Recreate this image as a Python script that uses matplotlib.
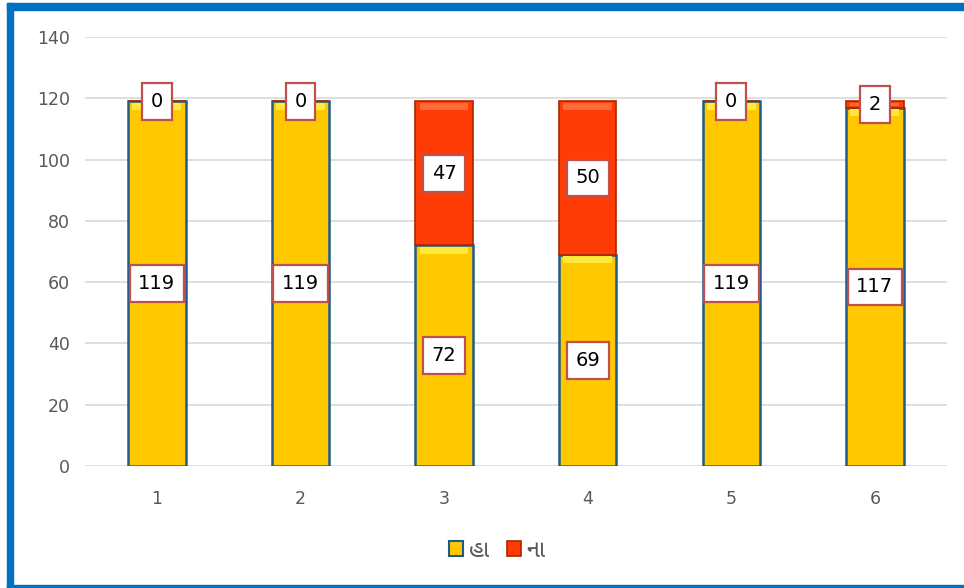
import matplotlib
matplotlib.use("Agg")
import matplotlib.pyplot as plt
from matplotlib.patches import Patch, Rectangle
import numpy as np

categories = ["1", "2", "3", "4", "5", "6"]
yes_values = [119, 119, 72, 69, 119, 117]
no_values = [0, 0, 47, 50, 0, 2]
series_names = ["હા", "ના"]
y_ticks = [0, 20, 40, 60, 80, 100, 120, 140]

yellow = "#FFC800"
red = "#FF3C05"
text_gray = "#595959"

fig = plt.figure(figsize=(9.64, 5.88), dpi=100)
ax = fig.add_axes([0.0882, 0.2075, 0.8938, 0.7295])

x = np.arange(1, len(categories) + 1)
width = 0.4
bars_yes = ax.bar(x, yes_values, width, color=yellow, edgecolor="#1F5C8C", linewidth=1.8, zorder=3)
bars_no = ax.bar(x, no_values, width, bottom=yes_values, color=red, edgecolor="#A82800", linewidth=1.2, zorder=3)

# bevel strip along the top of each segment
tops = {yellow: "#FFEA3C", red: "#FF6A3A"}
for bars, c in ((bars_yes, yellow), (bars_no, red)):
    for b in bars:
        h = b.get_height()
        if h <= 0:
            continue
        hl = min(2.5, h * 0.5)
        ax.add_patch(Rectangle((b.get_x() + 0.03, b.get_y() + h - hl - 0.4), b.get_width() - 0.06, hl,
                               facecolor=tops[c], linewidth=0, zorder=4))

# white value boxes centred on each segment
box = dict(boxstyle="square,pad=0.45", facecolor="white", edgecolor="#C0504D", linewidth=1.6)
for xi, y, n in zip(x, yes_values, no_values):
    ax.text(xi, y / 2, str(y), ha="center", va="center", fontsize=14, bbox=box, zorder=5)
    ax.text(xi, y + n / 2, str(n), ha="center", va="center", fontsize=14, bbox=box, zorder=5)

ax.set_xlim(0.5, 6.5)
ax.set_ylim(0, 140)
ax.set_yticks(y_ticks)
ax.set_xticks(x)
ax.set_xticklabels(categories)
ax.tick_params(axis="both", length=0, labelsize=12.5, colors=text_gray)
ax.tick_params(axis="x", pad=17)
ax.tick_params(axis="y", pad=11)
ax.grid(axis="y", color="#D9D9D9", linewidth=1.2, zorder=0)
for s in ax.spines.values():
    s.set_visible(False)

handles = [Patch(facecolor=yellow, edgecolor="#1F5C8C", linewidth=1.5),
           Patch(facecolor=red, edgecolor="#A82800", linewidth=1.2)]
fig.legend(handles, series_names, loc="center", bbox_to_anchor=(0.516, 0.063), ncol=2, frameon=False,
           handlelength=0.6, handleheight=0.6, handletextpad=0.25, columnspacing=0.7,
           labelcolor=text_gray, prop={"family": ["Noto Sans Gujarati", "Noto Sans", "DejaVu Sans"], "size": 17})

# blue frame around the chart
blue = "#0070C0"
fig.patches.append(Rectangle((0.0073, 0.0), 0.0062, 0.995, transform=fig.transFigure, color=blue, zorder=10))
fig.patches.append(Rectangle((0.0073, 0.983), 0.993, 0.012, transform=fig.transFigure, color=blue, zorder=10))
fig.patches.append(Rectangle((0.0073, 0.0), 0.993, 0.005, transform=fig.transFigure, color=blue, zorder=10))

fig.savefig("out.png", dpi=100)
